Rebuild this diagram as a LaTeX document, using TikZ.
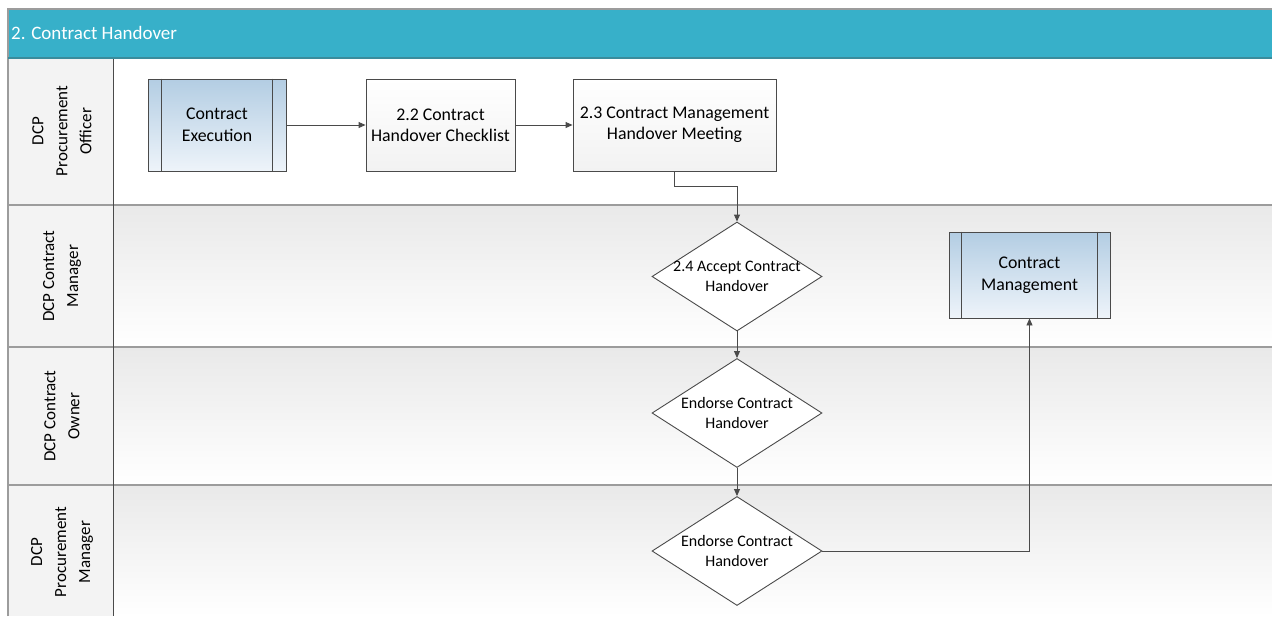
\documentclass[tikz,border=0pt]{standalone}
\usepackage{fontspec}
\setmainfont{Carlito}
\usetikzlibrary{shapes.geometric,arrows.meta}
\definecolor{headfill}{HTML}{37B0C9}
\definecolor{headline}{HTML}{3A8C9C}
\definecolor{laneline}{HTML}{9C9C9C}
\definecolor{cellfill}{HTML}{F3F3F3}
\definecolor{lanetop}{HTML}{E9E9E9}
\definecolor{shapeline}{HTML}{4A4A4A}
\definecolor{subtop}{HTML}{B3CDE3}
\definecolor{subbot}{HTML}{EEF4FA}
\definecolor{boxbot}{HTML}{F2F2F2}
\tikzset{
  task/.style={draw=shapeline, line width=0.9pt, top color=white, bottom color=boxbot,
    align=center, font=\fontsize{17.8}{21}\selectfont, inner sep=0pt},
  subproc/.style={draw=shapeline, line width=0.9pt, top color=subtop, bottom color=subbot,
    align=center, font=\fontsize{17.8}{22}\selectfont, inner sep=0pt},
  decision/.style={diamond, draw=shapeline, line width=0.9pt, fill=white, inner sep=0pt,
    minimum width=170pt, minimum height=109pt},
  dtext/.style={align=center, font=\fontsize{16}{19.5}\selectfont, inner sep=0pt},
  lanelabel/.style={rotate=90, align=center, font=\fontsize{17}{24}\selectfont, inner sep=0pt},
  flow/.style={draw=shapeline, line width=0.9pt, -{Triangle[length=7pt,width=6pt]}},
  laneborder/.style={draw=laneline, line width=1.6pt}
}
\begin{document}
\begin{tikzpicture}[x=1pt,y=-1pt]
\useasboundingbox (0,0) rectangle (1272,616);
\fill[white] (0,0) rectangle (1272,616);

% lane bodies
\fill[white] (113,58) rectangle (1272,205);
\shade[top color=lanetop, bottom color=white] (113,205) rectangle (1272,347);
\shade[top color=lanetop, bottom color=white] (113,347) rectangle (1272,485);
\shade[top color=lanetop, bottom color=white] (113,485) rectangle (1272,616);
% label column
\fill[cellfill] (8,58) rectangle (113,616);

% lane separators and column border
\draw[laneborder] (8,205) -- (1272,205);
\draw[laneborder] (8,347) -- (1272,347);
\draw[laneborder] (8,485) -- (1272,485);
\draw[laneborder] (8,58) -- (8,616);
\draw[draw=shapeline, line width=1pt] (113,58) -- (113,616);

% pool header
\fill[headfill] (8,9) rectangle (1272,58);
\draw[draw=laneline, line width=1.6pt] (8,616) -- (8,9) -- (1272,9);
\draw[draw=headline, line width=1.2pt] (8,58) -- (1272,58);
\node[anchor=west, text=white, font=\fontsize{19}{22}\selectfont, inner sep=0pt] (title) at (11,33) {2. Contract Handover};

% lane labels
\node[lanelabel] (l1) at (62,131) {DCP\\Procurement\\Officer};
\node[lanelabel] (l2) at (62,276) {DCP Contract\\Manager};
\node[lanelabel] (l3) at (62,416) {DCP Contract\\Owner};
\node[lanelabel] (l4) at (62,552) {DCP\\Procurement\\Manager};

% process steps
\node[subproc, minimum width=138pt, minimum height=92pt] (exec) at (217,125) {Contract\\Execution};
\draw[draw=shapeline, line width=0.9pt] ([xshift=14pt]exec.north west) -- ([xshift=14pt]exec.south west)
  ([xshift=-14pt]exec.north east) -- ([xshift=-14pt]exec.south east);

\node[task, minimum width=149pt, minimum height=92pt] (check) at (440.5,125) {2.2 Contract\\Handover Checklist};
\node[task, minimum width=203pt, minimum height=92pt] (meet) at (674.5,125) {2.3 Contract Management\\Handover Meeting};

\node[decision] (accept) at (737,276.5) {};
\node[dtext] (accepttxt) at (737,276.5) {2.4 Accept Contract\\Handover};

\node[subproc, minimum width=161pt, minimum height=86pt] (mgmt) at (1029.5,275) {Contract\\Management};
\draw[draw=shapeline, line width=0.9pt] ([xshift=13pt]mgmt.north west) -- ([xshift=13pt]mgmt.south west)
  ([xshift=-13pt]mgmt.north east) -- ([xshift=-13pt]mgmt.south east);

\node[decision] (owner) at (737,413) {};
\node[dtext] (ownertxt) at (737,413) {Endorse Contract\\Handover};

\node[decision] (pmgr) at (737,551) {};
\node[dtext] (pmgrtxt) at (737,551) {Endorse Contract\\Handover};

% connectors
\draw[flow] (exec.east) -- (check.west);
\draw[flow] (check.east) -- (meet.west);
\draw[flow] (meet.south) -- ++(0,15) -| (accept.north);
\draw[flow] (accept.south) -- (owner.north);
\draw[flow] (owner.south) -- (pmgr.north);
\draw[flow] (pmgr.east) -| (mgmt.south);
\end{tikzpicture}
\end{document}
